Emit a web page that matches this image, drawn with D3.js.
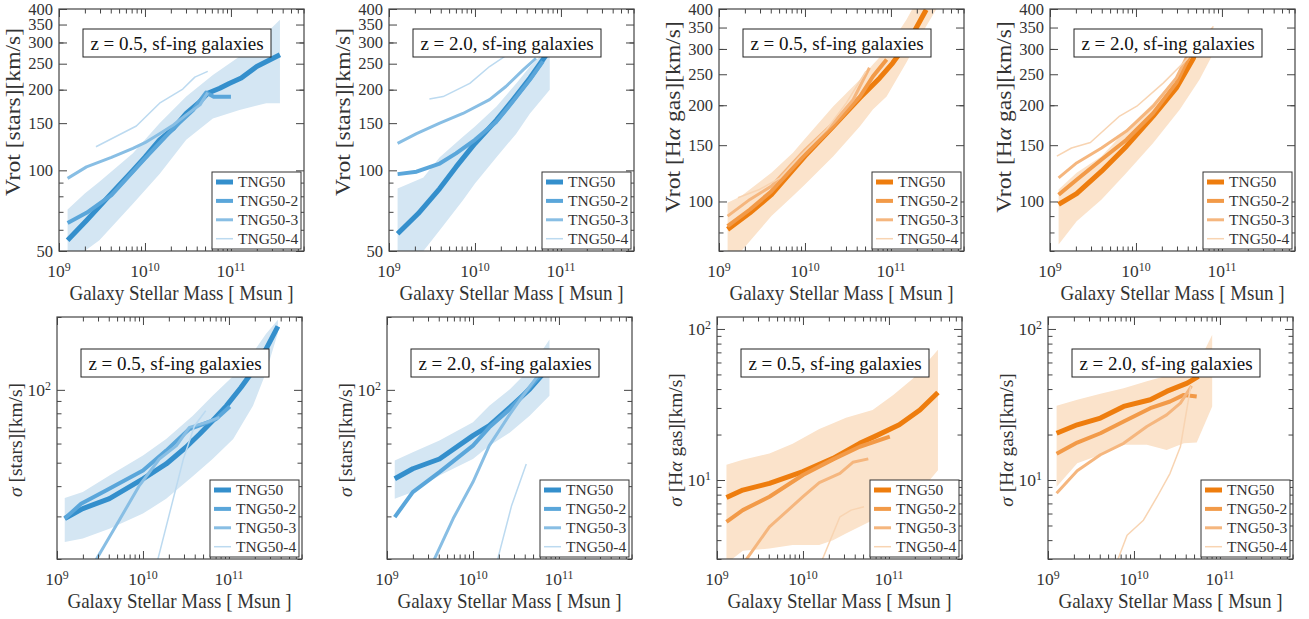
<!DOCTYPE html>
<html>
<head>
<meta charset="utf-8">
<script src="https://cdn.jsdelivr.net/npm/d3@7"></script>
<style>
  body { margin: 0; background: #fff; }
  svg text { font-family: "Liberation Serif", "Times New Roman", serif; fill: #333; }
</style>
</head>
<body>
<div id="wrapper"></div>
<script>
// x values are log10(M* / Msun), y values in km/s
const seriesNames = ["TNG50", "TNG50-2", "TNG50-3", "TNG50-4"]
const massTicks = [1e9, 1e10, 1e11]
const vrotStarTicks = [50, 100, 150, 200, 250, 300, 350, 400]
const vrotGasTicks = [100, 150, 200, 250, 300, 350, 400]
const sigmaTicks = [10, 100]

// Vrot [stars], z = 0.5
const vrotStarsZ05Lines = [
  [[9.10,54.8],[9.32,65],[9.61,82],[9.86,100],[10.0,112],[10.17,130],[10.33,143.5],[10.48,163],[10.64,180.5],[10.73,194],[10.87,202.5],[10.98,211],[11.12,221],[11.30,244],[11.57,270]],
  [[9.10,63.6],[9.32,69.4],[9.61,80.8],[10.0,110.8],[10.33,143.5],[10.56,168],[10.71,195],[10.80,188],[11.0,188]],
  [[9.10,93.3],[9.32,103],[9.61,111.8],[9.86,120.8],[10.0,126.8],[10.17,137],[10.33,147.6],[10.48,161],[10.64,175.5],[10.73,195]],
  [[9.43,122.5],[9.90,146.4],[10.17,178],[10.44,201],[10.58,222.7],[10.73,234]]
]
const vrotStarsZ05Band = [[9.10,40,71.4],[9.30,50,82],[9.47,54.8,90.6],[9.86,75,115.7],[10.17,97,150],[10.48,130,188.5],[10.79,156,227],[11.10,168,266],[11.41,178,325],[11.57,178,365]]

// Vrot [stars], z = 2.0
const vrotStarsZ20Lines = [
  [[9.10,58],[9.34,69],[9.59,85.5],[9.78,103],[10.0,126],[10.25,154],[10.44,183],[10.64,221],[10.83,270]],
  [[9.10,96.8],[9.32,98.8],[9.59,106],[9.78,115.7],[10.0,130],[10.25,152],[10.44,180.5],[10.64,218],[10.79,255]],
  [[9.10,126],[9.32,137],[9.59,150],[9.86,163],[10.17,183.5],[10.36,205.5],[10.56,237],[10.71,262]],
  [[9.47,184.7],[9.63,188.5],[9.94,211],[10.17,244],[10.42,276]]
]
const vrotStarsZ20Band = [[9.10,40,85.5],[9.40,50,94],[9.59,59.8,112],[9.86,77.4,133.5],[10.0,89.3,145.6],[10.25,112,173],[10.48,137,211],[10.64,163,244],[10.87,200,290]]

// Vrot [Halpha gas], z = 0.5
const vrotGasZ05Lines = [
  [[9.10,81.8],[9.36,92.2],[9.61,105],[10.0,138.6],[10.33,172],[10.64,211],[10.87,243.5],[11.02,271],[11.22,321],[11.41,398]],
  [[9.10,83.7],[9.36,94.4],[9.61,107.7],[10.0,140],[10.33,172],[10.64,213],[10.79,246],[10.95,278]],
  [[9.10,90],[9.36,101.5],[9.61,111.7],[10.0,145],[10.33,176],[10.56,208],[10.75,262]],
  [[9.22,102.7],[9.47,109],[9.71,118.6],[9.94,138.6],[10.25,168],[10.48,203],[10.71,255.5]]
]
const vrotGasZ05Band = [[9.10,65,99],[9.26,70,104],[9.61,90,123],[9.86,104,142],[10.0,113,157],[10.33,138.6,198.6],[10.64,172,240.6],[10.79,194,268],[10.95,213,298.5],[11.18,272,370],[11.41,353,480],[11.53,400,520]]

// Vrot [Halpha gas], z = 2.0
const vrotGasZ20Lines = [
  [[9.10,97.9],[9.31,105.9],[9.60,124.4],[9.89,148.9],[10.20,185],[10.47,226.6],[10.67,281],[10.73,332.6]],
  [[9.10,105],[9.31,117],[9.60,135.3],[9.89,156],[10.20,189],[10.47,235],[10.66,298.5],[10.72,330]],
  [[9.10,118.6],[9.31,132],[9.60,147],[9.89,166],[10.20,198.6],[10.47,243.5],[10.63,298.5]],
  [[9.08,138.6],[9.25,147],[9.47,153],[9.81,185],[10.01,198.6],[10.32,235],[10.59,278],[10.90,353]]
]
const vrotGasZ20Band = [[9.10,73.4,109],[9.31,86.8,123],[9.60,101.5,138.6],[9.89,123,168],[10.20,152.5,203],[10.51,194,252],[10.74,240.6,306],[10.90,291,353]]

// sigma [stars], z = 0.5
const sigmaStarsZ05Lines = [
  [[9.09,29.4],[9.30,32.3],[9.61,35.5],[10.0,42.9],[10.27,49.4],[10.50,57.9],[10.66,65.7],[10.81,74.5],[10.97,85.9],[11.14,102.2],[11.32,125.5],[11.43,147],[11.57,183]],
  [[9.09,29.4],[9.28,33.8],[9.57,38.4],[10.0,46.4],[10.27,56.1],[10.54,68.9],[10.70,72.2],[10.85,75.7],[11.01,85.4]],
  [[9.42,18.9],[9.69,27.6],[9.96,40.3],[10.19,51.8],[10.39,58.8],[10.54,70],[10.74,73.4],[10.89,76.9]],
  [[10.15,18.5],[10.47,51.8],[10.60,71.1],[10.73,82]]
]
const sigmaStarsZ05Band = [[9.09,23.5,35.7],[9.30,24.3,37.8],[9.61,26.7,44.3],[10.0,30.8,53.5],[10.27,35.5,62.7],[10.58,44,78.2],[10.81,51.8,94.5],[11.05,62.7,114],[11.28,85.9,142.5],[11.43,117.8,170],[11.57,172,195]]

// sigma [stars], z = 2.0
const sigmaStarsZ20Lines = [
  [[9.09,42.9],[9.30,47.2],[9.61,51.8],[10.0,64.7],[10.19,71.1],[10.43,84.6],[10.66,100.6],[10.81,116]],
  [[9.09,29.8],[9.30,37.8],[9.61,45.7],[10.0,58.8],[10.19,70],[10.43,83.3],[10.66,102.2],[10.81,117.8]],
  [[9.52,18.9],[9.77,29.4],[10.0,41.6],[10.19,58.8],[10.43,79.4],[10.58,94.5],[10.81,121.6]],
  [[10.27,18.9],[10.45,33.3],[10.62,49.4]]
]
const sigmaStarsZ20Band = [[9.09,35.5,51],[9.30,37.8,55.2],[9.61,44.3,61.7],[10.0,51.8,73.4],[10.19,58.8,85.9],[10.43,66.7,100.6],[10.66,78.2,121.6],[10.89,94.5,161.6]]

// sigma [Halpha gas], z = 0.5
const sigmaGasZ05Lines = [
  [[9.11,7.67],[9.30,8.58],[9.61,9.5],[10.0,11.36],[10.35,13.9],[10.66,17.5],[10.85,19.6],[11.12,23.2],[11.36,29.1],[11.57,38]],
  [[9.11,5.29],[9.30,6.32],[9.61,7.75],[10.0,10.8],[10.35,13.7],[10.66,16.6],[11.01,19.4]],
  [[9.28,2.66],[9.61,4.9],[10.0,7.75],[10.19,9.6],[10.43,11.07],[10.58,13.1],[10.76,13.8]],
  [[10.19,2.66],[10.43,5.71],[10.56,6.32],[10.71,6.65]]
]
const sigmaGasZ05Band = [[9.11,2.8,12.6],[9.30,3.4,13.6],[9.61,3.52,15.0],[9.88,3.71,17.4],[10.19,3.71,21.8],[10.35,4.0,23.8],[10.50,4.43,25.8],[10.81,5.42,29.1],[11.05,6.32,36.5],[11.28,7.37,47],[11.57,11.6,72.9]]

// sigma [Halpha gas], z = 2.0
const sigmaGasZ20Lines = [
  [[9.10,20.4],[9.34,23.2],[9.61,25.7],[9.88,30.7],[10.19,34],[10.38,38.6],[10.62,43.8],[10.75,48.5]],
  [[9.10,14.9],[9.34,17.7],[9.61,20.4],[9.88,24.4],[10.19,29.9],[10.42,33.1],[10.58,36.6],[10.73,35.7]],
  [[9.10,8.16],[9.34,11.5],[9.61,14.7],[9.88,17.5],[10.15,22.6],[10.38,27],[10.54,32.3],[10.67,42]],
  [[9.78,2.66],[9.92,4.31],[10.11,5.42],[10.27,7.75],[10.42,11.07],[10.54,16.6],[10.66,41.6]]
]
const sigmaGasZ20Band = [[9.10,9.03,31],[9.34,12.9,34],[9.61,14.7,37.2],[9.88,17.1,40.5],[10.15,17.1,45],[10.38,15.8,49],[10.58,17.5,53],[10.73,17.7,56.5],[10.91,30.7,91.7]]

const blues = ["#348fcc", "#5aa6da", "#88bee4", "#bcdaf0"]
const blueBand = "#d4e6f3"
const oranges = ["#ee7d0e", "#f29a48", "#f5b67e", "#f8d4b2"]
const orangeBand = "#fbe3cb"
const lineWidths = [5, 4, 3, 1.5]

const dimensions = {
  width: 1309,
  height: 619,
  panelWidth: 245,
  panelHeight: 242,
  colX: [59, 389, 719, 1050],
  rowY: [9, 317],
}

const svg = d3.select("#wrapper")
  .append("svg")
    .attr("width", dimensions.width)
    .attr("height", dimensions.height)

const massDomain = [1e9, Math.pow(10, 11.85)]

function minorTicks(domain) {
  const out = []
  for (let e = -1; e < 13; e++) {
    for (let k = 2; k < 10; k++) {
      const v = k * Math.pow(10, e)
      if (v >= domain[0] * 0.999 && v <= domain[1] * 1.001) out.push(v)
    }
  }
  return out
}

function powerLabel(sel) {
  sel.each(function(d) {
    const t = d3.select(this).text(null)
    t.append("tspan").text("10")
    t.append("tspan")
      .attr("dy", "-0.5em")
      .attr("font-size", "0.68em")
      .text(Math.round(Math.log10(d)))
  })
}

const frameColor = "#444"
let clipId = 0

function drawPanel(p) {
  const pw = dimensions.panelWidth
  const ph = dimensions.panelHeight
  const g = svg.append("g")
    .attr("transform", `translate(${p.x0},${p.y0})`)

  const xScale = d3.scaleLog().domain(massDomain).range([0, pw])
  const yScale = d3.scaleLog().domain(p.yDomain).range([ph, 0])
  const xAccessor = d => xScale(Math.pow(10, d[0]))

  const cid = "clip" + (clipId++)
  g.append("clipPath").attr("id", cid)
    .append("rect").attr("width", pw).attr("height", ph)

  const plot = g.append("g").attr("clip-path", `url(#${cid})`)

  const area = d3.area()
    .x(xAccessor)
    .y0(d => yScale(d[1]))
    .y1(d => yScale(d[2]))
  plot.append("path")
    .attr("d", area(p.band))
    .attr("fill", p.bandColor)

  const line = d3.line().x(xAccessor).y(d => yScale(d[1]))
  p.lines.forEach((pts, i) => {
    plot.append("path")
      .attr("d", line(pts))
      .attr("fill", "none")
      .attr("stroke", p.colors[i])
      .attr("stroke-width", lineWidths[i])
      .attr("stroke-linejoin", "round")
  })

  // ticks, inward on all four sides
  const yMajor = p.yMajor.filter(v => v >= p.yDomain[0] * 0.999 && v <= p.yDomain[1] * 1.001)
  const tickAxes = [
    [d3.axisBottom, xScale, `translate(0,${ph})`, massTicks, minorTicks(massDomain)],
    [d3.axisTop, xScale, "translate(0,0)", massTicks, minorTicks(massDomain)],
    [d3.axisLeft, yScale, "translate(0,0)", yMajor, minorTicks(p.yDomain)],
    [d3.axisRight, yScale, `translate(${pw},0)`, yMajor, minorTicks(p.yDomain)],
  ]
  tickAxes.forEach(([gen, scale, tr, major, minor]) => {
    g.append("g").attr("transform", tr)
      .call(gen(scale).tickValues(minor).tickSize(-4.5).tickFormat(""))
      .call(a => a.select(".domain").remove())
    g.append("g").attr("transform", tr)
      .call(gen(scale).tickValues(major).tickSize(-8).tickFormat(""))
      .call(a => a.select(".domain").remove())
  })
  g.selectAll(".tick line").attr("stroke", frameColor).attr("stroke-width", 1)

  // tick labels
  g.append("g").selectAll("text")
    .data(massTicks)
    .enter().append("text")
      .attr("x", d => xScale(d))
      .attr("y", ph + 26)
      .attr("text-anchor", "middle")
      .attr("font-size", 17.5)
      .call(powerLabel)

  const yLabels = g.append("g").selectAll("text")
    .data(yMajor)
    .enter().append("text")
      .attr("x", -6)
      .attr("y", d => yScale(d))
      .attr("dy", "0.34em")
      .attr("text-anchor", "end")
      .attr("font-size", p.powerY ? 17.5 : 16.5)
  if (p.powerY) yLabels.call(powerLabel)
  else yLabels.text(d => d)

  g.append("rect")
    .attr("width", pw)
    .attr("height", ph)
    .attr("fill", "none")
    .attr("stroke", frameColor)
    .attr("stroke-width", 1.2)

  // axis labels
  g.append("text")
    .attr("transform", `translate(${pw / 2},${ph + 48.5}) scale(1,1.12)`)
    .attr("text-anchor", "middle")
    .attr("font-size", 19)
    .text("Galaxy Stellar Mass [ Msun ]")

  const yl = g.append("text")
    .attr("transform", `translate(${p.yLabelX},${p.yLabelY}) rotate(-90) scale(${p.yLabelStretch},1)`)
    .attr("text-anchor", "middle")
    .attr("dy", "0.35em")
    .attr("font-size", p.yLabelSize)
  p.yLabel.forEach(([txt, italic]) => {
    yl.append("tspan").attr("font-style", italic ? "italic" : null).text(txt)
  })

  // redshift box
  g.append("rect")
    .attr("x", 24).attr("y", p.titleY)
    .attr("width", 188).attr("height", 28)
    .attr("fill", "#fff")
    .attr("stroke", "#222")
    .attr("stroke-width", 1)
  g.append("text")
    .attr("x", 118).attr("y", p.titleY + 14)
    .attr("dy", "0.35em")
    .attr("text-anchor", "middle")
    .attr("font-size", 19)
    .style("fill", "#111")
    .text(p.title)

  // legend
  const legend = g.append("g").attr("transform", "translate(153,163)")
  legend.append("rect")
    .attr("width", 89).attr("height", 77)
    .attr("fill", "#fff")
    .attr("stroke", "#333")
    .attr("stroke-width", 1)
  seriesNames.forEach((name, i) => {
    const ly = 10 + i * 18.9
    legend.append("line")
      .attr("x1", 4).attr("x2", 21)
      .attr("y1", ly).attr("y2", ly)
      .attr("stroke", p.colors[i])
      .attr("stroke-width", lineWidths[i])
    legend.append("text")
      .attr("x", 26).attr("y", ly)
      .attr("dy", "0.35em")
      .attr("font-size", 15.5)
      .text(name)
  })
}

const vrotStarsLabel = [["Vrot [stars][km/s]", false]]
const vrotGasLabel = [["Vrot [H", false], ["\u03b1", true], [" gas][km/s]", false]]
const sigmaStarsLabel = [["\u03c3", true], [" [stars][km/s]", false]]
const sigmaGasLabel = [["\u03c3", true], [" [H", false], ["\u03b1", true], [" gas][km/s]", false]]

const panels = [
  { col: 0, row: 0, lines: vrotStarsZ05Lines, band: vrotStarsZ05Band, yDomain: [50, 400], yMajor: vrotStarTicks, yLabel: vrotStarsLabel, title: "z = 0.5, sf-ing galaxies", pal: "b", yLabelY: 103 },
  { col: 1, row: 0, lines: vrotStarsZ20Lines, band: vrotStarsZ20Band, yDomain: [50, 400], yMajor: vrotStarTicks, yLabel: vrotStarsLabel, title: "z = 2.0, sf-ing galaxies", pal: "b", yLabelY: 103 },
  { col: 2, row: 0, lines: vrotGasZ05Lines, band: vrotGasZ05Band, yDomain: [70, 400], yMajor: vrotGasTicks, yLabel: vrotGasLabel, title: "z = 0.5, sf-ing galaxies", pal: "o", yLabelY: 108 },
  { col: 3, row: 0, lines: vrotGasZ20Lines, band: vrotGasZ20Band, yDomain: [70, 400], yMajor: vrotGasTicks, yLabel: vrotGasLabel, title: "z = 2.0, sf-ing galaxies", pal: "o", yLabelY: 108 },
  { col: 0, row: 1, lines: sigmaStarsZ05Lines, band: sigmaStarsZ05Band, yDomain: [20, 200], yMajor: sigmaTicks, powerY: true, yLabel: sigmaStarsLabel, title: "z = 0.5, sf-ing galaxies", pal: "b", yLabelY: 123 },
  { col: 1, row: 1, lines: sigmaStarsZ20Lines, band: sigmaStarsZ20Band, yDomain: [20, 200], yMajor: sigmaTicks, powerY: true, yLabel: sigmaStarsLabel, title: "z = 2.0, sf-ing galaxies", pal: "b", yLabelY: 123 },
  { col: 2, row: 1, lines: sigmaGasZ05Lines, band: sigmaGasZ05Band, yDomain: [3, 120], yMajor: sigmaTicks, powerY: true, yLabel: sigmaGasLabel, title: "z = 0.5, sf-ing galaxies", pal: "o", yLabelY: 123 },
  { col: 3, row: 1, lines: sigmaGasZ20Lines, band: sigmaGasZ20Band, yDomain: [3, 120], yMajor: sigmaTicks, powerY: true, yLabel: sigmaGasLabel, title: "z = 2.0, sf-ing galaxies", pal: "o", yLabelY: 123 },
]

panels.forEach(p => {
  drawPanel({
    ...p,
    x0: dimensions.colX[p.col] - (p.row === 1 ? 2 : 0),
    y0: dimensions.rowY[p.row],
    colors: p.pal === "b" ? blues : oranges,
    bandColor: p.pal === "b" ? blueBand : orangeBand,
    titleY: p.row === 0 ? 20 : 32,
    yLabelX: p.row === 0 ? -46 : -42,
    yLabelSize: p.row === 0 ? 20.5 : 19.5,
    yLabelStretch: p.row === 0 ? 1.15 : 1,
  })
})
</script>
</body>
</html>
